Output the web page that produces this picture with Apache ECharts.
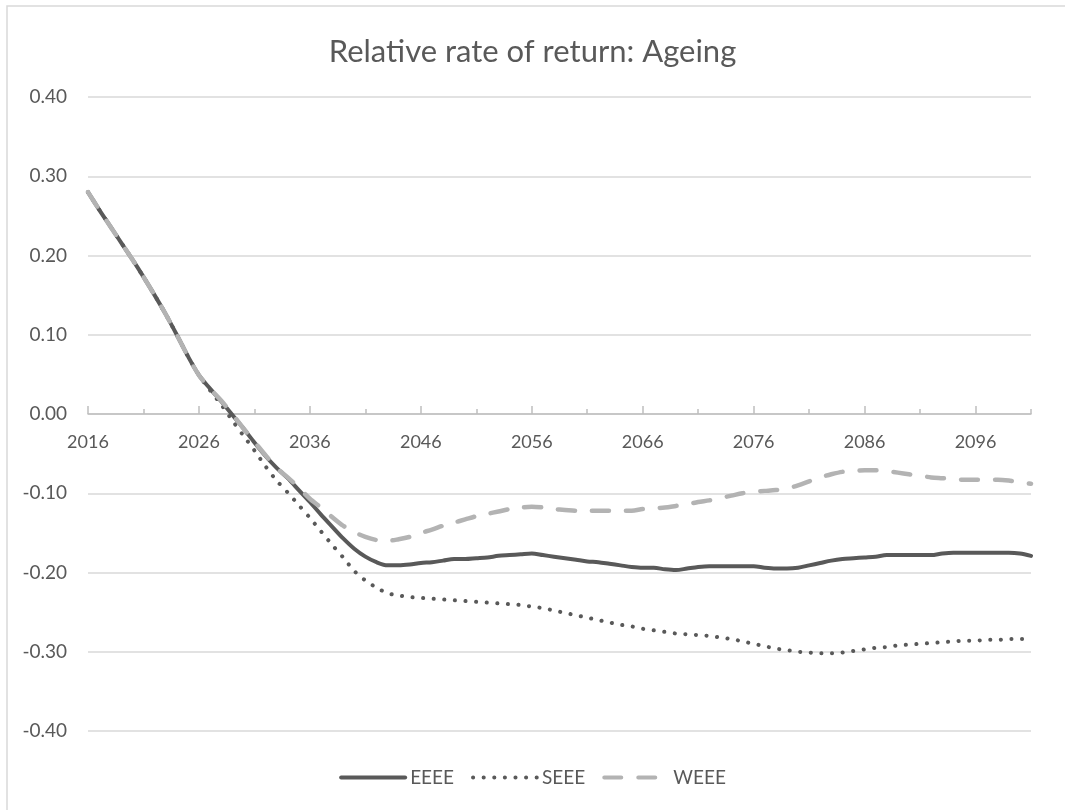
<!DOCTYPE html>
<html>
<head>
<meta charset="utf-8">
<title>Relative rate of return: Ageing</title>
<script src="https://cdn.jsdelivr.net/npm/echarts@6/dist/echarts.min.js"></script>
<style>
  html, body { margin: 0; padding: 0; background: #ffffff; }
  #chart { width: 1065px; height: 810px; }
</style>
</head>
<body>
<div id="chart"></div>
<script>
// Years 2016 .. 2101
const years = [];
for (let y = 2016; y <= 2101; y++) years.push(String(y));

const yTicks = { min: -0.4, max: 0.4, step: 0.1 };

const eeee = [
  0.280, 0.258, 0.237, 0.216, 0.195, 0.173, 0.150, 0.126, 0.100, 0.073,
  0.049, 0.032, 0.016, -0.001, -0.018, -0.036, -0.053, -0.068, -0.081, -0.096,
  -0.111, -0.127, -0.142, -0.157, -0.170, -0.180, -0.187, -0.191, -0.191, -0.190,
  -0.188, -0.187, -0.185, -0.183, -0.183, -0.182, -0.181, -0.179, -0.178, -0.177,
  -0.176, -0.178, -0.180, -0.182, -0.184, -0.186, -0.187, -0.189, -0.191, -0.193,
  -0.194, -0.194, -0.196, -0.197, -0.195, -0.193, -0.192, -0.192, -0.192, -0.192,
  -0.192, -0.194, -0.195, -0.195, -0.194, -0.191, -0.188, -0.185, -0.183, -0.182,
  -0.181, -0.180, -0.178, -0.178, -0.178, -0.178, -0.178, -0.176, -0.175, -0.175,
  -0.175, -0.175, -0.175, -0.175, -0.176, -0.179
];

const seee = [
  0.280, 0.258, 0.237, 0.216, 0.195, 0.173, 0.150, 0.126, 0.100, 0.073,
  0.049, 0.030, 0.012, -0.008, -0.027, -0.046, -0.066, -0.084, -0.099, -0.115,
  -0.131, -0.148, -0.165, -0.181, -0.198, -0.210, -0.219, -0.226, -0.229, -0.231,
  -0.232, -0.233, -0.234, -0.235, -0.236, -0.237, -0.238, -0.239, -0.240, -0.241,
  -0.243, -0.245, -0.248, -0.251, -0.254, -0.257, -0.260, -0.263, -0.266, -0.268,
  -0.271, -0.273, -0.275, -0.277, -0.278, -0.279, -0.280, -0.282, -0.284, -0.287,
  -0.290, -0.293, -0.296, -0.298, -0.300, -0.301, -0.302, -0.302, -0.301, -0.299,
  -0.297, -0.295, -0.294, -0.292, -0.291, -0.290, -0.289, -0.288, -0.287, -0.286,
  -0.286, -0.285, -0.285, -0.284, -0.284, -0.284
];

const weee = [
  0.280, 0.258, 0.237, 0.216, 0.195, 0.173, 0.150, 0.126, 0.100, 0.073,
  0.049, 0.032, 0.017, 0.000, -0.018, -0.035, -0.052, -0.068, -0.080, -0.093,
  -0.107, -0.118, -0.130, -0.141, -0.149, -0.155, -0.159, -0.160, -0.158, -0.155,
  -0.150, -0.146, -0.141, -0.137, -0.133, -0.129, -0.126, -0.123, -0.120, -0.118,
  -0.117, -0.118, -0.120, -0.121, -0.122, -0.122, -0.122, -0.122, -0.122, -0.122,
  -0.120, -0.119, -0.118, -0.116, -0.114, -0.111, -0.109, -0.106, -0.103, -0.100,
  -0.098, -0.097, -0.096, -0.094, -0.090, -0.085, -0.080, -0.076, -0.073, -0.072,
  -0.071, -0.071, -0.072, -0.074, -0.076, -0.078, -0.080, -0.081, -0.082, -0.083,
  -0.083, -0.083, -0.083, -0.084, -0.086, -0.088
];

const seriesNames = ['EEEE', 'SEEE', 'WEEE'];

const FONT = 'Lato, "Open Sans", sans-serif';
const TEXT = '#595959';
const AXIS = '#bfbfbf';
const GRIDLINE = '#d9d9d9';

// Plot box: top 97, bottom edge 731 -> the zero line sits halfway up
const GRID_TOP = 97;
const GRID_BOTTOM = 79;
const plotHeight = 810 - GRID_TOP - GRID_BOTTOM;
const zeroOffset = -plotHeight * (0 - yTicks.min) / (yTicks.max - yTicks.min);

const chart = echarts.init(document.getElementById('chart'), null, { renderer: 'canvas' });

chart.setOption({
  backgroundColor: '#ffffff',
  animation: false,
  graphic: [{
    type: 'rect',
    z: -10,
    silent: true,
    shape: { x: 7, y: 6, width: 1200, height: 1000 },
    style: { fill: 'none', stroke: GRIDLINE, lineWidth: 1.5 }
  }],
  title: {
    text: 'Relative rate of return: Ageing',
    left: 'center',
    top: 31,
    textStyle: { fontFamily: FONT, fontSize: 31, fontWeight: 'normal', color: TEXT }
  },
  legend: {
    bottom: 18,
    left: 'center',
    padding: [5, 5, 5, 31],
    itemWidth: 64,
    itemHeight: 14,
    itemGap: 17,
    itemStyle: { opacity: 0 },
    lineStyle: { width: 4 },
    textStyle: { fontFamily: FONT, fontSize: 19, color: TEXT },
    data: seriesNames
  },
  grid: { left: 88, right: 34, top: GRID_TOP, bottom: GRID_BOTTOM, containLabel: false },
  xAxis: [{
    type: 'category',
    data: years,
    boundaryGap: false,
    offset: zeroOffset,
    axisLine: { show: true, onZero: false, lineStyle: { color: AXIS, width: 1.5 } },
    axisTick: { show: true, interval: 4, inside: true, length: 5, lineStyle: { color: AXIS, width: 1.5 } },
    axisLabel: { interval: 9, margin: 19, fontFamily: FONT, fontSize: 18, color: TEXT },
    splitLine: { show: false }
  }, {
    type: 'category',
    data: years,
    boundaryGap: false,
    offset: zeroOffset,
    axisLine: { show: false, onZero: false },
    axisTick: { show: true, interval: 9, inside: false, length: 8, lineStyle: { color: AXIS, width: 1.5 } },
    axisLabel: { show: false },
    splitLine: { show: false }
  }],
  yAxis: {
    type: 'value',
    min: yTicks.min,
    max: yTicks.max,
    interval: yTicks.step,
    axisLine: { show: false },
    axisTick: { show: false },
    axisLabel: {
      margin: 21,
      fontFamily: FONT,
      fontSize: 19,
      color: TEXT,
      formatter: v => v.toFixed(2)
    },
    splitLine: { lineStyle: { color: GRIDLINE, width: 1.5 } }
  },
  series: [{
    name: 'EEEE',
    type: 'line',
    data: eeee,
    symbol: 'none',
    smooth: 0.3,
    color: '#595959',
    lineStyle: { color: '#595959', width: 4, cap: 'round', join: 'round' }
  }, {
    name: 'SEEE',
    type: 'line',
    data: seee,
    symbol: 'none',
    smooth: 0.3,
    color: '#595959',
    lineStyle: { color: '#595959', width: 4, type: [0.1, 10.5], cap: 'round', join: 'round' }
  }, {
    name: 'WEEE',
    type: 'line',
    data: weee,
    symbol: 'none',
    smooth: 0.3,
    color: '#b3b3b3',
    lineStyle: { color: '#b3b3b3', width: 4.5, type: [17, 17], cap: 'round', join: 'round' }
  }]
});
</script>
</body>
</html>
